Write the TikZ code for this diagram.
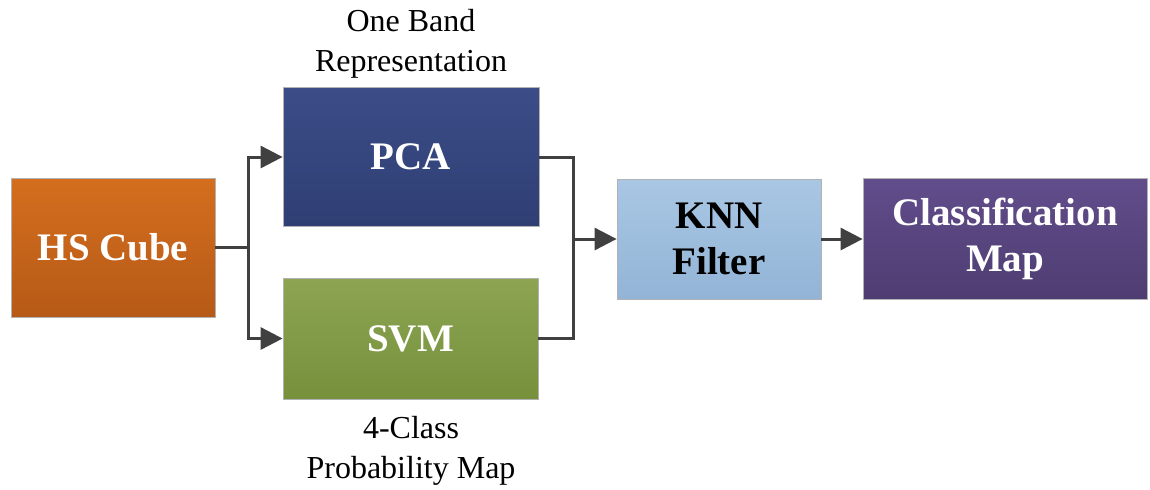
\documentclass[tikz,border=0pt]{standalone}
\usepackage{fontspec}
\setmainfont{Liberation Serif}
\usetikzlibrary{arrows.meta}
\definecolor{cubetop}{HTML}{D46E1E}
\definecolor{cubebot}{HTML}{B65A17}
\definecolor{pcatop}{HTML}{3B4C87}
\definecolor{pcabot}{HTML}{2F3F74}
\definecolor{svmtop}{HTML}{8DA552}
\definecolor{svmbot}{HTML}{76903C}
\definecolor{knntop}{HTML}{A9C7E4}
\definecolor{knnbot}{HTML}{93B4D6}
\definecolor{clstop}{HTML}{614D8B}
\definecolor{clsbot}{HTML}{4E3D72}
\definecolor{linegray}{HTML}{404040}
\begin{document}
\begin{tikzpicture}[x=0.5pt,y=-0.5pt,
    blockbox/.style={draw=gray!60, line width=0.4pt, inner sep=0pt, align=center,
      font=\bfseries\fontsize{19.5}{23}\selectfont},
    flow/.style={draw=linegray, line width=1.5pt, -{Triangle[length=11pt,width=11pt]}},
    link/.style={draw=linegray, line width=1.5pt},
    note/.style={align=center, font=\fontsize{16}{20}\selectfont}]
  \useasboundingbox (0,0) rectangle (1150,489);
  % blocks
  \node[blockbox, minimum width=102pt, minimum height=69.5pt, text=white,
    top color=cubetop, bottom color=cubebot] (cube) at (113,247.5) {HS Cube};
  \node[blockbox, minimum width=128pt, minimum height=69.5pt, text=white,
    top color=pcatop, bottom color=pcabot] (pca) at (411,157) {PCA};
  \node[blockbox, minimum width=127.5pt, minimum height=60.5pt, text=white,
    top color=svmtop, bottom color=svmbot] (svm) at (410.5,338.5) {SVM};
  \node[blockbox, minimum width=102pt, minimum height=60pt, text=black,
    top color=knntop, bottom color=knnbot] (knn) at (719,239) {KNN\\Filter};
  \node[blockbox, minimum width=142pt, minimum height=60.5pt, text=white,
    top color=clstop, bottom color=clsbot] (cls) at (1005,238.5) {Classification\\Map};
  % labels
  \node[note] (pcanote) at (411,44) {One Band\\Representation};
  \node[note] (svmnote) at (411,451) {4-Class\\Probability Map};
  % connectors
  \coordinate (split) at (248,247.5);
  \coordinate (join) at (573,239);
  \draw[link] (cube.east) -- (split);
  \draw[flow] (split) |- (pca.west);
  \draw[flow] (split) |- (svm.west);
  \draw[link] (pca.east) -| (join);
  \draw[link] (svm.east) -| (join);
  \draw[flow] (join) -- (knn.west);
  \draw[flow] (knn.east) -- (knn.east -| cls.west);
\end{tikzpicture}
\end{document}
